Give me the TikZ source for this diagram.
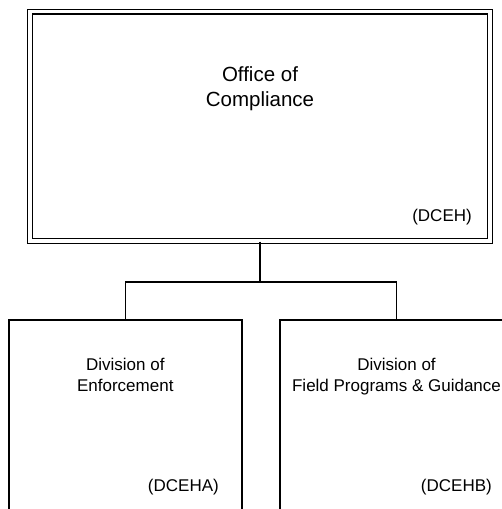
\documentclass[tikz,border=0pt]{standalone}
\usepackage{fontspec}
\setmainfont{Liberation Sans}

\tikzstyle{office}=[draw,double,double distance=3.6pt,line width=1.2pt,minimum width=459.5pt,minimum height=229.5pt,inner sep=0pt]
\tikzstyle{division}=[draw,line width=1.4pt,minimum width=233pt,minimum height=240pt,inner sep=0pt]
\tikzstyle{link} = [draw,line width=1.4pt,-]
\tikzstyle{titletext}=[align=center,inner sep=0pt,font=\fontsize{20.5}{25}\selectfont]
\tikzstyle{divtext}=[align=center,inner sep=0pt,font=\fontsize{17}{21}\selectfont]
\tikzstyle{codetext}=[anchor=base east,inner sep=0pt,font=\fontsize{17}{21}\selectfont]

\begin{document}
\begin{tikzpicture}[x=1pt,y=-1pt]
			\clip (0,0) rectangle (502,509);
			% the office and its two divisions
			\node[office] (dceh) at (260,126.25) {};
			\node[division] (dceha) at (125.3,440) {};
			\node[division] (dcehb) at (396.5,440) {};
			% texts inside the boxes
			\node[titletext] (dcehname) at (260,89) {Office of\\Compliance};
			\node[codetext] (dcehcode) at (472,221) {(DCEH)};
			\node[divtext] (dcehaname) at (125.3,375) {Division of\\Enforcement};
			\node[codetext] (dcehacode) at (219,491.5) {(DCEHA)};
			\node[divtext] (dcehbname) at (396.5,377) {Division of\\Field Programs \& Guidance};
			\node[codetext] (dcehbcode) at (492,491.5) {(DCEHB)};
			% Connect the office with the divisions
			\coordinate (fork) at (260,282);
			\path[link] (dceh.south) -- (fork);
			\foreach \dest in {dceha, dcehb}
				\path[link] (fork) -| (\dest.north);
\end{tikzpicture}
\end{document}
